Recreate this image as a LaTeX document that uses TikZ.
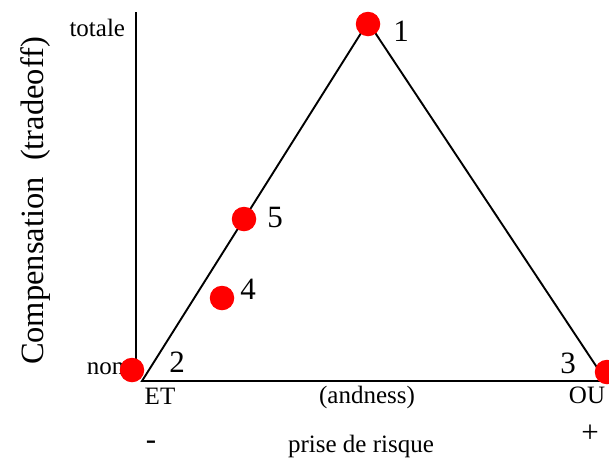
\documentclass[tikz,border=0pt]{standalone}
\usepackage{fontspec}
\setmainfont{Liberation Serif}
\usetikzlibrary{positioning}

\begin{document}
\begin{tikzpicture}[
    x=1pt, y=-1pt,
    line width=1.9pt,
    dot/.style={circle,fill=red,inner sep=0pt,minimum size=24.5pt},
    lbl/.style={font=\fontsize{25}{30}\selectfont,inner sep=0pt},
    num/.style={font=\fontsize{31}{36}\selectfont,inner sep=0pt}
]
\useasboundingbox (0,0) rectangle (609,459);

% axe vertical
\coordinate (top) at (136,12);
\coordinate (orig) at (136,381);
\draw (top) -- (orig);

% triangle
\coordinate (A) at (368,22);
\coordinate (B) at (142,381);
\coordinate (C) at (606,381);
\draw (B) -- (A) -- (C) -- cycle;

% textes des axes
\node[lbl,anchor=base east] (totale) at (126,36) {totale};
\node[lbl,anchor=base west] (non) at (86,374) {non};
\node[lbl,anchor=base] (et) at (160,404) {ET};
\node[lbl,anchor=base] (andness) at (367,403) {(andness)};
\node[lbl,anchor=base] (ou) at (587,403) {OU};
\node[num,anchor=base] (moins) at (151,449) {-};
\node[lbl,anchor=base] (risque) at (361,452) {prise de risque};
\node[num,anchor=base] (plus) at (590,442) {+};
\node[font=\fontsize{32.5}{38}\selectfont,inner sep=0pt,rotate=90]
    (comp) at (36,201) {Compensation\ \ (tradeoff)};

% points
\node[dot] (d1) at (368,24) {};
\node[dot] (d2) at (132,370) {};
\node[dot] (d3) at (607,372) {};
\node[dot] (d4) at (222,298) {};
\node[dot] (d5) at (244,219) {};

\node[num,anchor=base] (n1) at (401,41) {1};
\node[num,anchor=base] (n2) at (177,372) {2};
\node[num,anchor=base] (n3) at (568,373) {3};
\node[num,anchor=base] (n4) at (248,299) {4};
\node[num,anchor=base] (n5) at (275,227) {5};

\end{tikzpicture}
\end{document}
